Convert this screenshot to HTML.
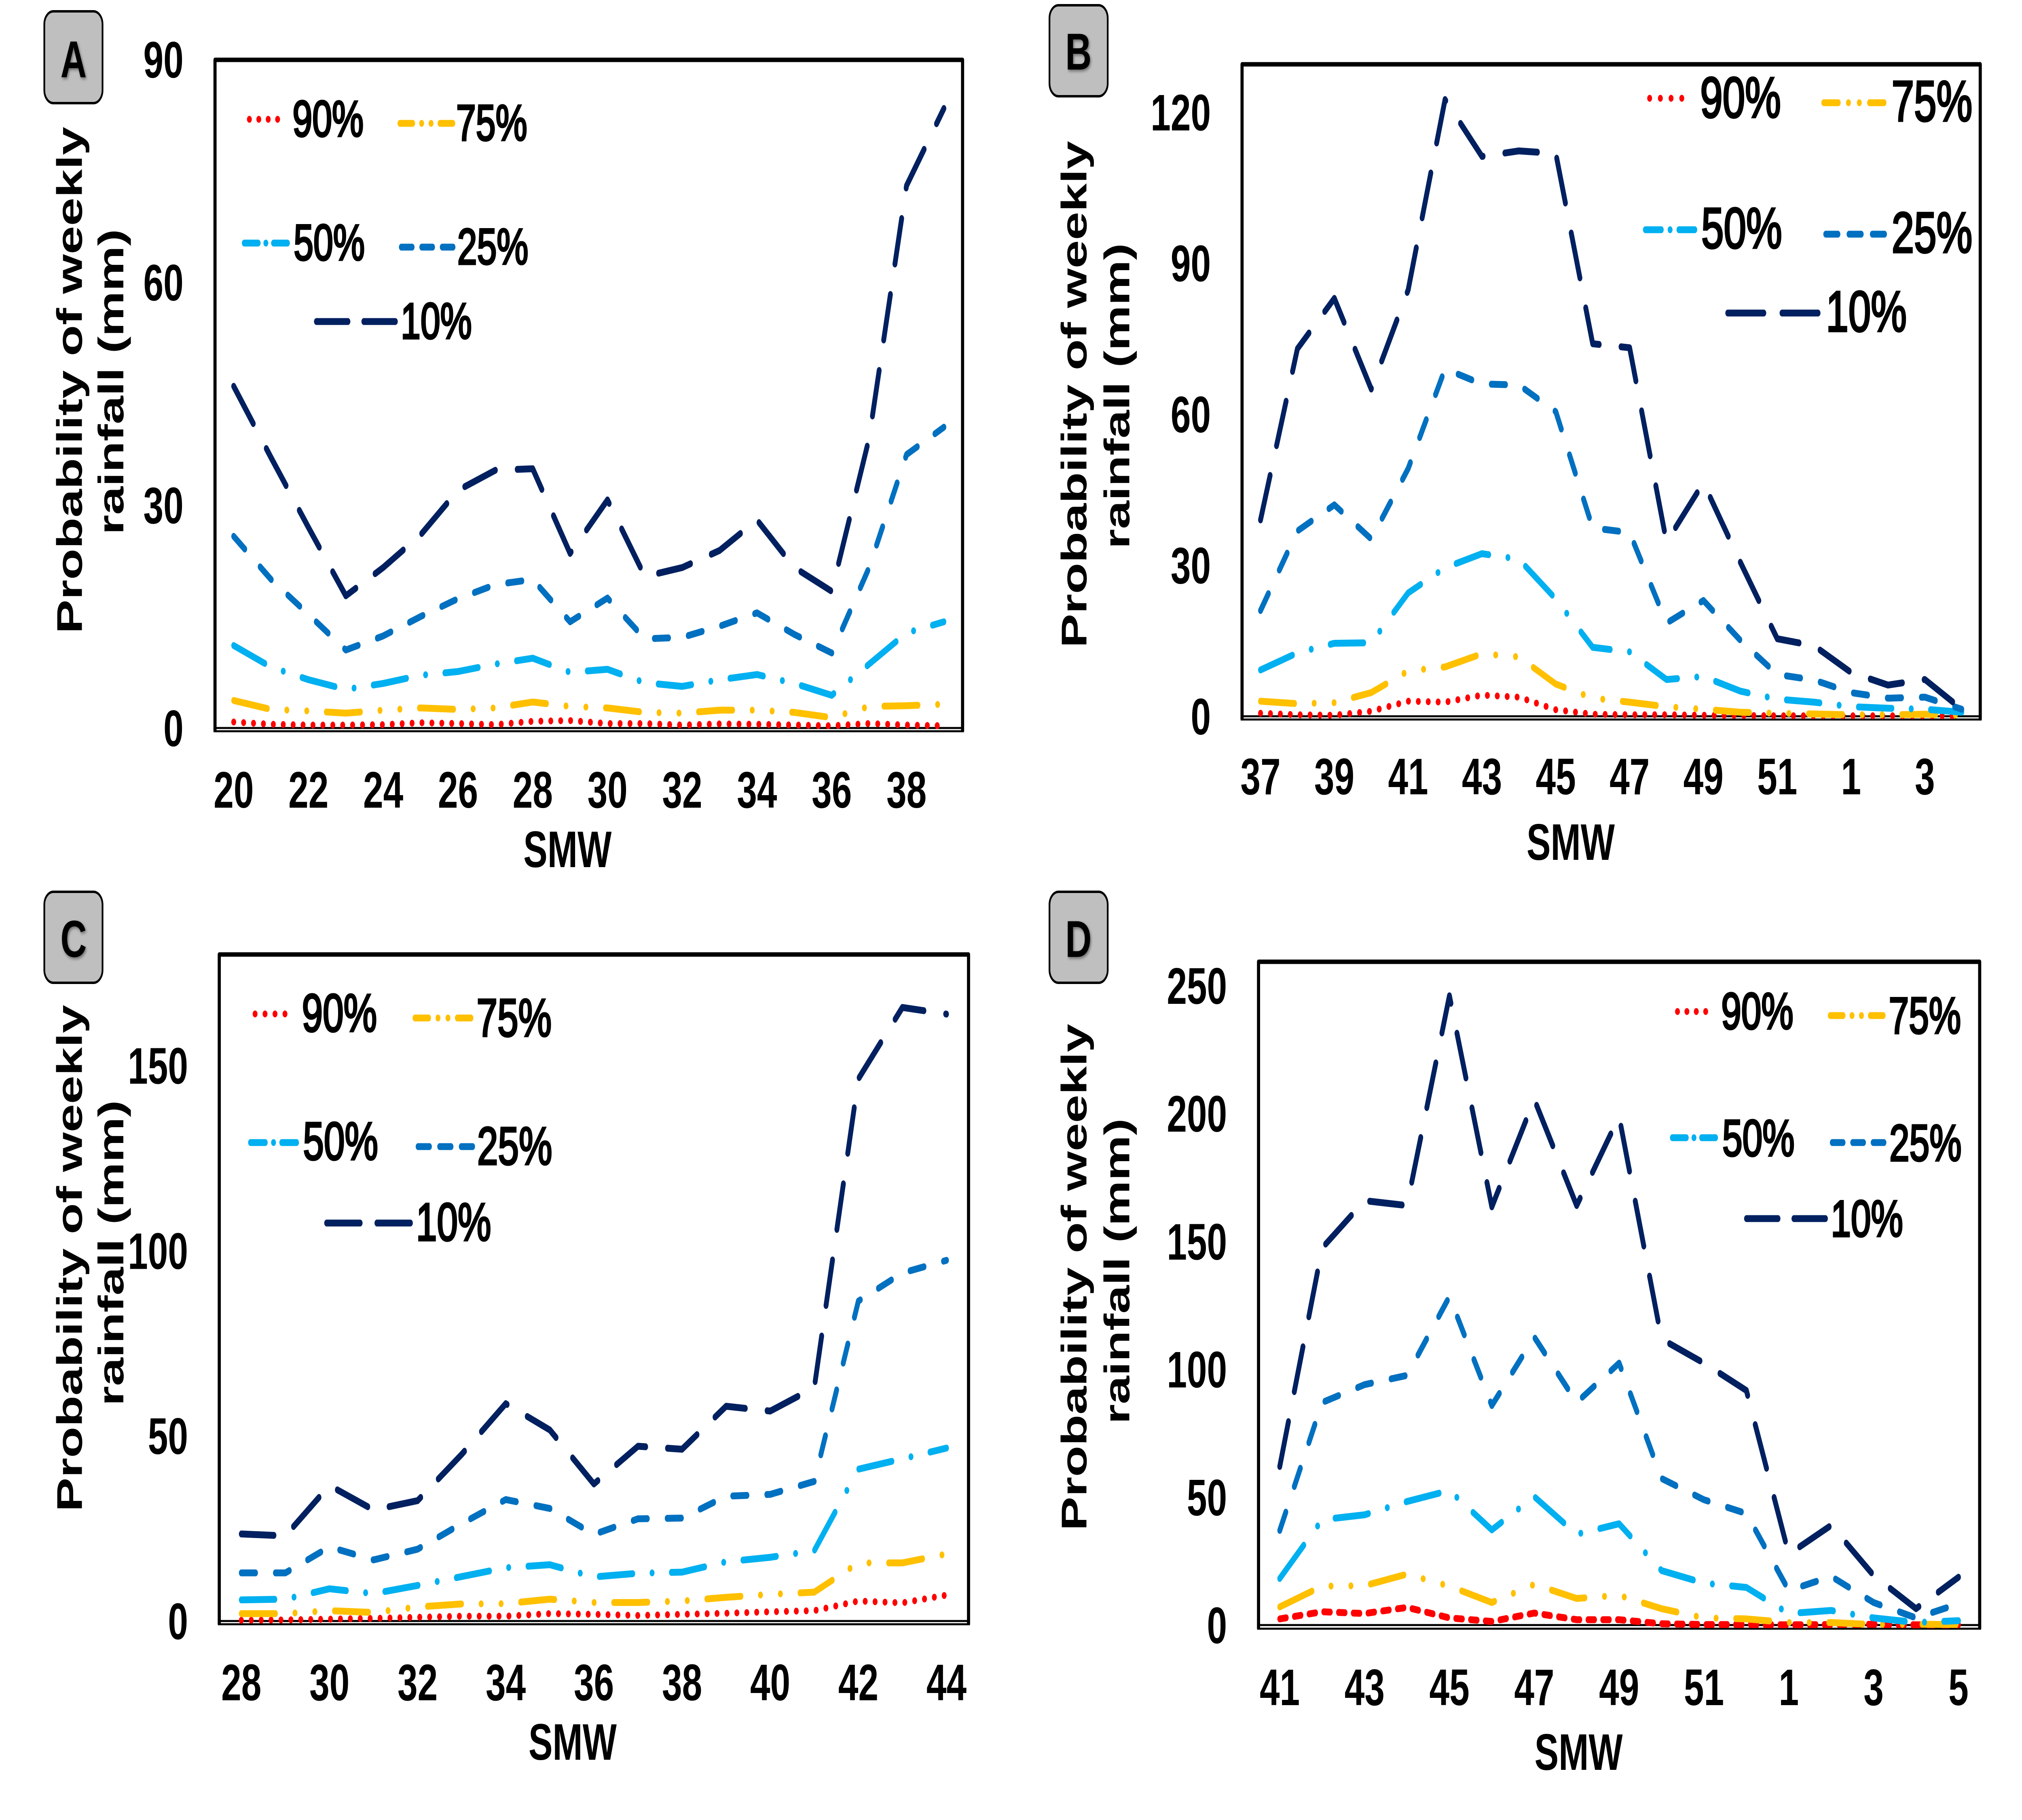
<!DOCTYPE html>
<html lang="en">
<head>
<meta charset="utf-8">
<title>Probability of weekly rainfall by SMW</title>
<style>
html,body{margin:0;padding:0;background:#fff;width:100%;height:100%}
svg{display:block;width:100vw;height:100vh}
text{font-family:"Liberation Sans",Arial,sans-serif;fill:#000}
.tick{font-size:127px;font-weight:700}
.axt{font-size:126px;font-weight:700;text-anchor:middle}
.smw{font-size:127px;font-weight:700;text-anchor:middle}
.leg{font-weight:400;stroke:#000;stroke-width:5px}
.box{fill:#bfbfbf;stroke:#000;stroke-width:6}
.badge{font-size:128px;font-weight:700;text-anchor:middle;filter:drop-shadow(3px 4px 4px rgba(0,0,0,.45))}
.h{fill:none;stroke-width:17;stroke-linecap:round}
.f{fill:none;stroke:#000;stroke-width:11;stroke-linejoin:round}
.b{fill:none;stroke:#000;stroke-width:5}
.r{stroke:#ff0000}.y{stroke:#ffc000}.c{stroke:#00b0f0}.u{stroke:#0070c0}.n{stroke:#002060}
</style>
</head>
<body>
<svg id="figure" xmlns="http://www.w3.org/2000/svg" viewBox="0 0 7119 4500" preserveAspectRatio="none">
<rect width="7119" height="4500" fill="#fff"/>

<!-- PANEL A -->
<g id="panel-a">
  <rect class="box" x="156" y="28" width="205" height="227" rx="32"/>
  <text class="badge" x="259" y="191">A</text>
  <path class="f" d="M757 1808V148H3389V1808"/>
  <line class="b" x1="752" x2="3394" y1="1808" y2="1808"/>
  <line class="b" x1="757" x2="3389" y1="1800" y2="1800"/>
  <text class="axt" transform="translate(288 940) rotate(-90)">Probability of weekly</text>
  <text class="axt" transform="translate(434 944) rotate(-90)">rainfall (mm)</text>
  <text class="smw" x="1998" y="2144">SMW</text>
  <g font-size="125">
    <line class="h r" x1="878" x2="1007" y1="295" y2="295" stroke-dasharray="0.1 33"/>
    <text class="leg" x="1030" y="337">90%</text>
    <line class="h y" x1="1408" x2="1600" y1="305" y2="305" stroke-dasharray="45 31.5 .1 33 .1 31.5 45 100"/>
    <text class="leg" x="1606" y="347">75%</text>
    <line class="h c" x1="860" x2="1019" y1="601" y2="601" stroke-dasharray="49 27 .1 27 49 100"/>
    <text class="leg" x="1034" y="643">50%</text>
    <line class="h u" x1="1413" x2="1600" y1="611" y2="611" stroke-dasharray="38 34 38 34 38 100"/>
    <text class="leg" x="1610" y="653">25%</text>
    <line class="h n" x1="1114" x2="1395" y1="795" y2="795" stroke-dasharray="111 56 111 100"/>
    <text class="leg" x="1411" y="837">10%</text>
  </g>
  <g id="panel-a-marks"></g>
</g>

<!-- PANEL B -->
<g id="panel-b">
  <rect class="box" x="3695" y="13" width="205" height="225" rx="32"/>
  <text class="badge" x="3797" y="172">B</text>
  <path class="f" d="M4373 1779V159H6972V1779"/>
  <line class="b" x1="4368" x2="6977" y1="1779" y2="1779"/>
  <line class="b" x1="4373" x2="6972" y1="1771" y2="1771"/>
  <text class="axt" transform="translate(3825 975) rotate(-90)">Probability of weekly</text>
  <text class="axt" transform="translate(3976 979) rotate(-90)">rainfall (mm)</text>
  <text class="smw" x="5530" y="2126">SMW</text>
  <g font-size="142">
    <line class="h r" x1="5808" x2="5958" y1="243" y2="243" stroke-dasharray="0.1 37.6"/>
    <text class="leg" x="5986" y="290">90%</text>
    <line class="h y" x1="6421" x2="6644" y1="254" y2="254" stroke-dasharray="51 36 .1 38 .1 36 51 100"/>
    <text class="leg" x="6660" y="299">75%</text>
    <line class="h c" x1="5793" x2="5974" y1="568" y2="568" stroke-dasharray="56 31 .1 31 56 100"/>
    <text class="leg" x="5990" y="613">50%</text>
    <line class="h u" x1="6428" x2="6644" y1="579" y2="579" stroke-dasharray="43 39 43 39 43 100"/>
    <text class="leg" x="6660" y="624">25%</text>
    <line class="h n" x1="6083" x2="6405" y1="774" y2="774" stroke-dasharray="127 64 127 100"/>
    <text class="leg" x="6429" y="819">10%</text>
  </g>
  <g id="panel-b-marks"></g>
</g>

<!-- PANEL C -->
<g id="panel-c">
  <rect class="box" x="156" y="2205" width="205" height="225" rx="32"/>
  <text class="badge" x="259" y="2366">C</text>
  <path class="f" d="M772 4016V2360H3410V4016"/>
  <line class="b" x1="767" x2="3415" y1="4016" y2="4016"/>
  <line class="b" x1="772" x2="3410" y1="4008" y2="4008"/>
  <text class="axt" transform="translate(288 3111) rotate(-90)">Probability of weekly</text>
  <text class="axt" transform="translate(434 3098) rotate(-90)">rainfall (mm)</text>
  <text class="smw" x="2016" y="4351">SMW</text>
  <g font-size="132">
    <line class="h r" x1="898" x2="1036" y1="2507" y2="2507" stroke-dasharray="0.1 35"/>
    <text class="leg" x="1063" y="2550">90%</text>
    <line class="h y" x1="1461" x2="1665" y1="2517" y2="2517" stroke-dasharray="48 33 .1 35 .1 33 48 100"/>
    <text class="leg" x="1678" y="2562">75%</text>
    <line class="h c" x1="882" x2="1052" y1="2825" y2="2825" stroke-dasharray="52 29 .1 29 52 100"/>
    <text class="leg" x="1067" y="2867">50%</text>
    <line class="h u" x1="1472" x2="1665" y1="2835" y2="2835" stroke-dasharray="40 36 40 36 40 100"/>
    <text class="leg" x="1680" y="2879">25%</text>
    <line class="h n" x1="1150" x2="1449" y1="3024" y2="3024" stroke-dasharray="118 59 118 100"/>
    <text class="leg" x="1465" y="3067">10%</text>
  </g>
  <g id="panel-c-marks"></g>
</g>

<!-- PANEL D -->
<g id="panel-d">
  <rect class="box" x="3695" y="2205" width="205" height="225" rx="32"/>
  <text class="badge" x="3797" y="2366">D</text>
  <path class="f" d="M4431 4027V2378H6970V4027"/>
  <line class="b" x1="4426" x2="6975" y1="4027" y2="4027"/>
  <line class="b" x1="4431" x2="6970" y1="4018" y2="4018"/>
  <text class="axt" transform="translate(3825 3158) rotate(-90)">Probability of weekly</text>
  <text class="axt" transform="translate(3976 3143) rotate(-90)">rainfall (mm)</text>
  <text class="smw" x="5558" y="4376">SMW</text>
  <g font-size="127">
    <line class="h r" x1="5906" x2="6038" y1="2501" y2="2501" stroke-dasharray="0.1 33"/>
    <text class="leg" x="6060" y="2544">90%</text>
    <line class="h y" x1="6444" x2="6639" y1="2511" y2="2511" stroke-dasharray="45 31.5 .1 33 .1 31.5 45 100"/>
    <text class="leg" x="6650" y="2555">75%</text>
    <line class="h c" x1="5888" x2="6049" y1="2813" y2="2813" stroke-dasharray="49 27 .1 27 49 100"/>
    <text class="leg" x="6064" y="2858">50%</text>
    <line class="h u" x1="6451" x2="6639" y1="2825" y2="2825" stroke-dasharray="38 34 38 34 38 100"/>
    <text class="leg" x="6652" y="2870">25%</text>
    <line class="h n" x1="6149" x2="6430" y1="3013" y2="3013" stroke-dasharray="111 56 111 100"/>
    <text class="leg" x="6446" y="3057">10%</text>
  </g>
  <g id="panel-d-marks"></g>
</g>
</svg>

<script>
// ---- Panel A data ----
const panelACategories = ["20","21","22","23","24","25","26","27","28","29","30","31","32","33","34","35","36","37","38","39"];
const panelAXTicks = ["20","22","24","26","28","30","32","34","36","38"];
const panelAYTicks = [0,30,60,90];
const panelA90 = [0.8,0.5,0.4,0.4,0.45,0.7,0.6,0.45,0.9,1,0.6,0.6,0.4,0.55,0.5,0.4,0.3,0.6,0.4,0.3];
const panelA75 = [3.7,2.5,2.3,2,2.4,2.7,2.5,2.7,3.5,2.9,2.7,2.1,2,2.4,2.4,2.1,1.4,2.9,3,3.2];
const panelA50 = [11.1,8.2,6.5,5.2,6,7.1,7.6,8.6,9.4,7.5,7.9,6.1,5.6,6.5,7.2,6,4.4,8.6,12.8,14.3];
const panelA25 = [25.8,20,15.3,10.5,12.4,15,17.4,19.3,20,14.3,17.5,12,12.2,13.7,15.5,12.6,10.1,21.6,36.8,40.5];
const panelA10 = [46,36.4,27,17.8,21.6,26,32,34.7,34.9,23.5,30.7,20.4,21.6,23.9,28,21.6,18.4,39,73,83.4];

// ---- Panel B data ----
const panelBCategories = ["37","38","39","40","41","42","43","44","45","46","47","48","49","50","51","52","1","2","3","4"];
const panelBXTicks = ["37","39","41","43","45","47","49","51","1","3"];
const panelBYTicks = [0,30,60,90,120];
const panelB90 = [0.6,0.3,0.2,1,3,2.8,4.2,3.8,1.3,0.4,0.3,0.3,0.2,0.15,0.1,0.1,0.1,0.1,0.1,0.1];
const panelB75 = [3,2.5,2.7,4.7,9,9.8,12.4,11.8,6.4,3.6,2.8,1.9,1.4,0.8,0.6,0.45,0.3,0.3,0.4,0.2];
const panelB50 = [9.2,12.6,14.5,14.6,24.5,29.5,32.3,31.2,23.3,13.7,12.8,7.3,7.9,5,3.4,2.8,1.9,1.6,1.4,0.8];
const panelB25 = [21,36.8,42,35.2,49.2,69,66,65.8,60.5,37.4,36.5,18.5,23,15.1,8.3,7.2,4.7,3.6,3.8,1.4];
const panelB10 = [39,73,83,65,84.7,122.5,111.2,112.3,111.8,74,73.2,34.6,46.4,30.6,15.4,14,8.7,6.2,7.3,1.4];

// ---- Panel C data ----
const panelCCategories = ["28","29","30","31","32","33","34","35","36","37","38","39","40","41","42","43","44"];
const panelCXTicks = ["28","30","32","34","36","38","40","42","44"];
const panelCYTicks = [0,50,100,150];
const panelC90 = [0.2,0.3,0.5,0.7,1,1.3,1.3,2,1.8,1.5,1.8,2.1,2.5,2.8,5.4,4.9,7];
const panelC75 = [2,2,2.8,2.3,3.8,4.6,4.7,5.9,5,5,5.4,6.4,7.2,7.8,15.7,15.7,18.1];
const panelC50 = [5.7,5.9,8.7,7.4,9.6,12,14.4,15.2,11.9,12.9,13.2,16,17.2,19,41,43.8,46.7];
const panelC25 = [13,13,20,16.5,19.4,26.3,32.8,30.4,23.4,27.6,27.8,33.7,34.2,37.7,86.4,94,97.4];
const panelC10 = [23.5,23,36.6,30,32.5,45,58.7,51.6,37,47.2,46.4,58,56.7,63,146.4,165.7,163.9];

// ---- Panel D data ----
const panelDCategories = ["41","42","43","44","45","46","47","48","49","50","51","52","1","2","3","4","5"];
const panelDXTicks = ["41","43","45","47","49","51","1","3","5"];
const panelDYTicks = [0,50,100,150,200,250];
const panelD90 = [2.4,5.2,4.5,6.9,2.8,1.4,4.7,2.1,2.1,0.5,0.2,0.2,0.1,0.2,0.3,0.1,0.1];
const panelD75 = [7.1,15.2,15.4,19.9,15.2,8.8,15.9,10.4,11.6,6.4,2.8,2.4,1,1,0.2,0.3,0.2];
const panelD50 = [18.2,41.2,43.1,48.3,52.6,37.2,50.2,35.5,39.6,21.3,16.4,14.7,4.5,5.7,2.8,1,1.7];
const panelD25 = [37,87,94,97.6,128.4,85.8,112.6,87,102.4,57.3,49,43.6,13.5,19,8.8,2.8,8.3];
const panelD10 = [62,147.4,165.9,164,246,163.5,205.5,164,198.8,111.8,102.4,91.7,27.7,39,19.4,6.4,18.7];

const SVG_NS = 'http://www.w3.org/2000/svg';
const seriesStyle = [
  {color:'#ff0000', dash:'0.1 34.8'},
  {color:'#ffc000', dash:'120 69 0.1 70 0.1 69'},
  {color:'#00b0f0', dash:'118 68 0.1 68'},
  {color:'#0070c0', dash:'50 70'},
  {color:'#002060', dash:'115 77'}
];

function drawPanel(p) {
  const host = document.getElementById(p.host);
  const step = (p.right - p.left) / p.categories.length;
  const xScale = function (i) { return p.left + step * (i + 0.5); };
  const yScale = function (v) { return p.y0 - (p.y0 - p.top) * v / p.yMax; };

  p.yTicks.forEach(function (t) {
    const el = document.createElementNS(SVG_NS, 'text');
    
    
    el.setAttribute('class', 'tick');
    el.setAttribute('x', p.yLabelRight);
    el.setAttribute('y', yScale(t) + 45);
    el.setAttribute('text-anchor', 'end');
    el.textContent = String(t);
    host.appendChild(el);
  });

  p.xTicks.forEach(function (t) {
    const el = document.createElementNS(SVG_NS, 'text');
    
    
    el.setAttribute('class', 'tick');
    el.setAttribute('x', xScale(p.categories.indexOf(t)));
    el.setAttribute('y', p.xLabelBase);
    el.setAttribute('text-anchor', 'middle');
    el.textContent = t;
    host.appendChild(el);
  });

  p.series.forEach(function (values, s) {
    const pts = values.map(function (v, i) {
      return xScale(i).toFixed(1) + ',' + yScale(v).toFixed(1);
    });
    const el = document.createElementNS(SVG_NS, 'polyline');
    
    
    el.setAttribute('points', pts.join(' '));
    el.setAttribute('fill', 'none');
    el.setAttribute('stroke', seriesStyle[s].color);
    el.setAttribute('stroke-width', '17');
    el.setAttribute('stroke-linecap', 'round');
    el.setAttribute('stroke-linejoin', 'round');
    el.setAttribute('stroke-dasharray', (s === 0 && p.redDash) ? p.redDash : seriesStyle[s].dash);
    host.appendChild(el);
  });
}

drawPanel({host:'panel-a-marks', left:757, right:3389, top:147, y0:1800, yMax:90, yLabelRight:646, xLabelBase:1997,
  categories:panelACategories, xTicks:panelAXTicks, yTicks:panelAYTicks,
  series:[panelA90,panelA75,panelA50,panelA25,panelA10]});
drawPanel({host:'panel-b-marks', left:4373, right:6972, top:159, y0:1771, yMax:129.5, yLabelRight:4263, xLabelBase:1964,
  categories:panelBCategories, xTicks:panelBXTicks, yTicks:panelBYTicks,
  series:[panelB90,panelB75,panelB50,panelB25,panelB10]});
drawPanel({host:'panel-c-marks', left:772, right:3410, top:2360, y0:4008, yMax:180, yLabelRight:662, xLabelBase:4204,
  categories:panelCCategories, xTicks:panelCXTicks, yTicks:panelCYTicks,
  series:[panelC90,panelC75,panelC50,panelC25,panelC10]});
drawPanel({host:'panel-d-marks', left:4431, right:6970, top:2378, y0:4018, yMax:259.3, yLabelRight:4320, xLabelBase:4216,
  categories:panelDCategories, xTicks:panelDXTicks, yTicks:panelDYTicks, redDash:'23 29',
  series:[panelD90,panelD75,panelD50,panelD25,panelD10]});
</script>
</body>
</html>
